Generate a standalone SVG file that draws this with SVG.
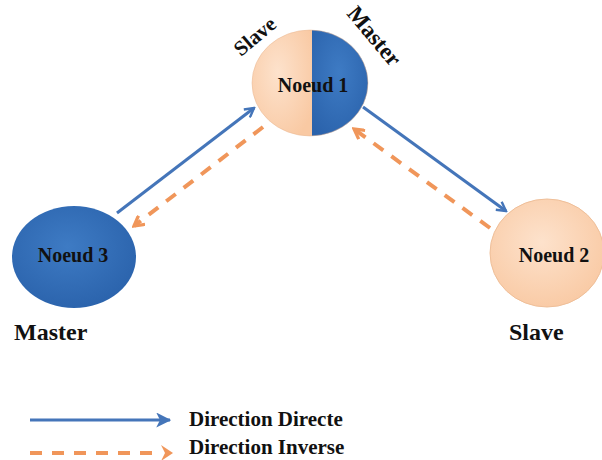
<svg xmlns="http://www.w3.org/2000/svg" width="602" height="460" viewBox="0 0 602 460">
<style>
.lbl{font-family:"Liberation Serif","Times New Roman",serif;font-weight:bold;fill:#111}
.nl{font-size:20px;text-anchor:middle}
.big{font-size:24px}
.leg{font-size:21px}
.blue{stroke:#4475b9;stroke-width:3;fill:none}
.orange{stroke:#f0965a;stroke-width:4;fill:none;stroke-dasharray:12 10}
</style>
<defs>
<radialGradient id="gBlue" cx="0.45" cy="0.4" r="0.65">
<stop offset="0" stop-color="#3e7bc4"/>
<stop offset="1" stop-color="#2a62ab"/>
</radialGradient>
<radialGradient id="gPeach" cx="0.45" cy="0.4" r="0.65">
<stop offset="0" stop-color="#fde2cc"/>
<stop offset="1" stop-color="#f9c9a3"/>
</radialGradient>
<marker id="aBlue" viewBox="0 0 12 12" refX="10" refY="6" markerWidth="12" markerHeight="12" markerUnits="userSpaceOnUse" orient="auto">
<path d="M1,1 L10,6 L1,11" fill="none" stroke="#4475b9" stroke-width="2.4" stroke-linejoin="miter"/>
</marker>
<marker id="aOrange" viewBox="0 0 12 12" refX="10" refY="6" markerWidth="13" markerHeight="13" markerUnits="userSpaceOnUse" orient="auto">
<path d="M1,1 L10,6 L1,11" fill="none" stroke="#f0965a" stroke-width="3" stroke-linejoin="miter"/>
</marker>
<marker id="aBlueL" viewBox="0 0 12 12" refX="11" refY="6" markerWidth="15" markerHeight="15" markerUnits="userSpaceOnUse" orient="auto">
<path d="M0,0 L12,6 L0,12 L3,6 Z" fill="#4475b9"/>
</marker>
<clipPath id="c1"><ellipse cx="310" cy="83" rx="58" ry="53"/></clipPath>
</defs>

<g id="connectors">
<line class="blue" x1="117" y1="213" x2="254" y2="108" marker-end="url(#aBlue)"/>
<line class="orange" x1="263" y1="127" x2="134" y2="226" marker-end="url(#aOrange)"/>
<line class="blue" x1="363" y1="107" x2="506" y2="211" marker-end="url(#aBlue)"/>
<line class="orange" x1="490" y1="228" x2="354" y2="129" marker-end="url(#aOrange)"/>
</g>

<g id="node1">
<g clip-path="url(#c1)">
<rect x="250" y="28" width="62" height="112" fill="url(#gPeach)"/>
<rect x="312" y="28" width="60" height="112" fill="url(#gBlue)"/>
</g>
<ellipse cx="310" cy="83" rx="58" ry="53" fill="none" stroke="#e8b590" stroke-width="0.8" opacity="0.6"/>
<text class="lbl nl" x="313" y="92">Noeud 1</text>
<text class="lbl" font-size="21" transform="translate(241,57) rotate(-40)">Slave</text>
<text class="lbl" font-size="23" transform="translate(346,14) rotate(50)">Master</text>
</g>

<g id="node3">
<ellipse cx="74" cy="257" rx="62" ry="51" fill="url(#gBlue)"/>
<text class="lbl nl" x="73" y="262">Noeud 3</text>
<text class="lbl big" x="14" y="340">Master</text>
</g>

<g id="node2">
<ellipse cx="547" cy="253" rx="57" ry="54" fill="url(#gPeach)" stroke="#efbf99" stroke-width="1"/>
<text class="lbl nl" x="554" y="262">Noeud 2</text>
<text class="lbl big" x="509" y="340">Slave</text>
</g>

<g id="legend">
<line class="blue" stroke-width="4" x1="30" y1="420" x2="170" y2="420" marker-end="url(#aBlueL)"/>
<text class="lbl leg" x="189" y="426">Direction Directe</text>
<line class="orange" stroke-width="5" x1="30" y1="453" x2="160" y2="453"/>
<path d="M161,445 L173,453 L161,461 L165,453 Z" fill="#f0965a"/>
<text class="lbl leg" x="189" y="454">Direction Inverse</text>
</g>
</svg>
